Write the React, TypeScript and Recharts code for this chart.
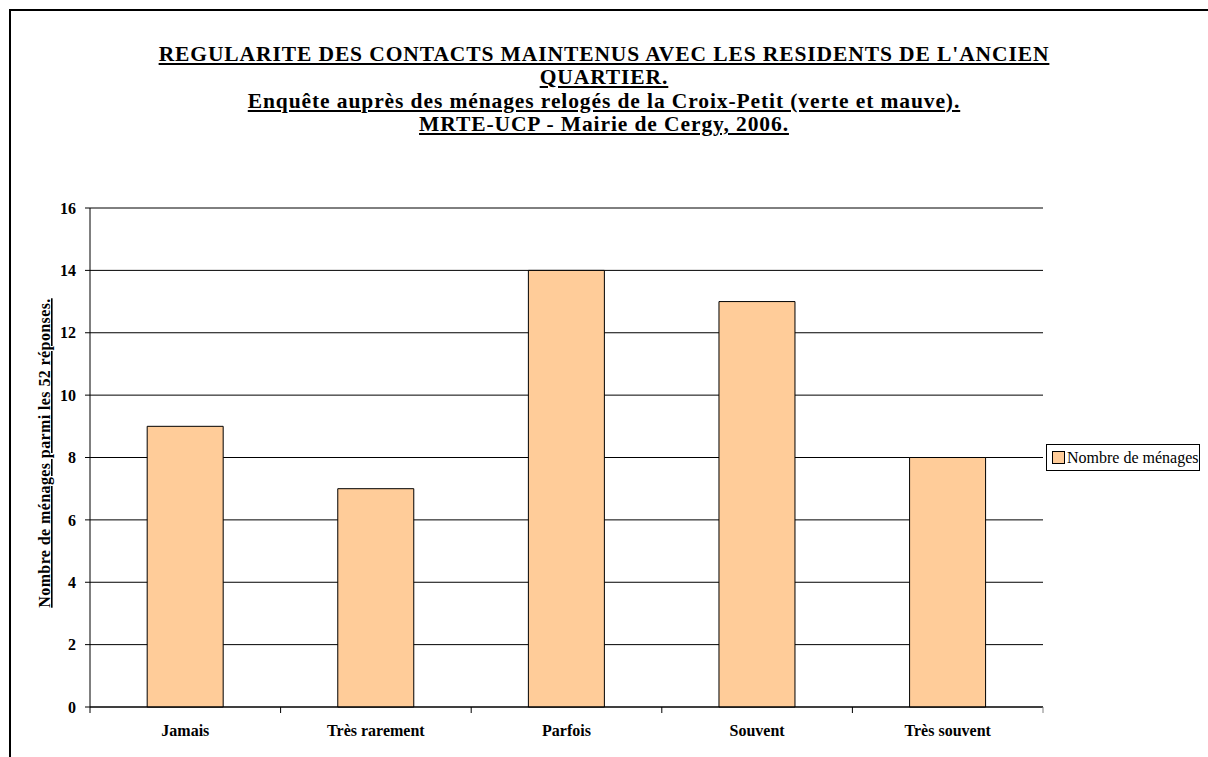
import React from 'react';
import { BarChart, Bar, XAxis, YAxis, CartesianGrid, ReferenceLine } from 'recharts';

const categories = ['Jamais', 'Très rarement', 'Parfois', 'Souvent', 'Très souvent'];
const households = [9, 7, 14, 13, 8];
const yTicks = [0, 2, 4, 6, 8, 10, 12, 14, 16];
const seriesName = 'Nombre de ménages';
const yAxisTitle = 'Nombre de ménages parmi les 52 réponses.';

const titleLines = [
  "REGULARITE DES CONTACTS MAINTENUS AVEC LES RESIDENTS DE L'ANCIEN",
  'QUARTIER.',
  'Enquête auprès des ménages relogés de la Croix-Petit (verte et mauve).',
  'MRTE-UCP - Mairie de Cergy, 2006.',
];

const data = categories.map((name, i) => ({ name, value: households[i] }));

const FONT = '"Liberation Serif", "Times New Roman", serif';
const PLOT_LEFT = 90;
const PLOT_RIGHT = 1043;
const BAND = (PLOT_RIGHT - PLOT_LEFT) / categories.length;

const XTick = (props: any) => {
  const { x, y, payload, index, visibleTicksCount } = props;
  const half = payload && payload.offset ? payload.offset : BAND / 2;
  const last = index === (visibleTicksCount ?? categories.length) - 1;
  return (
    <g>
      <line x1={x - half} y1={y} x2={x - half} y2={y + 6} stroke="#000" />
      {last && <line x1={x + half} y1={y} x2={x + half} y2={y + 6} stroke="#808080" />}
      <text x={x} y={y + 29} textAnchor="middle" fontFamily={FONT} fontWeight="bold" fontSize={16} fill="#000">
        {payload.value}
      </text>
    </g>
  );
};

const YLabel = () => (
  <text
    x={50}
    y={453}
    transform="rotate(-90 50 453)"
    textAnchor="middle"
    fontFamily={FONT}
    fontWeight="bold"
    fontSize={16}
    letterSpacing={0.4}
    textDecoration="underline"
    fill="#000"
  >
    {yAxisTitle}
  </text>
);

export default function App() {
  return (
    <div style={{ position: 'absolute', left: 0, top: 0, width: 1208, height: 757, overflow: 'hidden', background: '#fff' }}>
      <div style={{ position: 'absolute', left: 9, top: 9, width: 1300, height: 900, borderLeft: '2px solid #000', borderTop: '2px solid #000' }} />
      <div style={{ position: 'absolute', left: 0, top: 43, width: 1208, textAlign: 'center', fontFamily: FONT, fontWeight: 'bold', fontSize: 21.5, letterSpacing: 0.9, lineHeight: '23.3px', textDecoration: 'underline', color: '#000' }}>
        {titleLines.map((t) => (
          <div key={t}>{t}</div>
        ))}
      </div>
      <div style={{ position: 'absolute', left: 0, top: 0 }}>
        <BarChart width={1208} height={757} data={data} margin={{ top: 208, right: 165, bottom: 20, left: 30 }} barCategoryGap="30%">
          <CartesianGrid horizontal vertical={false} stroke="#000" strokeOpacity={1} />
          <XAxis
            dataKey="name"
            axisLine={{ stroke: '#000' }}
            tickLine={false}
            tickSize={0}
            tickMargin={0}
            tick={<XTick />}
            interval={0}
            height={30}
          />
          <YAxis
            domain={[0, 16]}
            ticks={yTicks}
            interval={0}
            width={60}
            axisLine={{ stroke: '#000' }}
            tickLine={{ stroke: '#000' }}
            tickSize={5}
            tickMargin={9}
            tick={{ fontFamily: FONT, fontWeight: 'bold', fontSize: 16, fill: '#000' }}
          />
          <YAxis yAxisId="right" orientation="right" width={0} tick={false} tickLine={false} axisLine={{ stroke: '#808080' }} />
          <ReferenceLine y={16} stroke="#808080" />
          <Bar dataKey="value" name={seriesName} fill="#FFCC99" stroke="#000" strokeWidth={1} isAnimationActive={false} />
          <YLabel />
        </BarChart>
      </div>
      <div
        style={{
          position: 'absolute',
          left: 1046,
          top: 444,
          width: 152,
          height: 25,
          border: '1px solid #000',
          background: '#fff',
          display: 'flex',
          alignItems: 'center',
          fontFamily: FONT,
          fontSize: 16,
          color: '#000',
          whiteSpace: 'nowrap',
        }}
      >
        <span style={{ display: 'inline-block', width: 11, height: 11, background: '#FFCC99', border: '1px solid #000', marginLeft: 5, marginRight: 2 }} />
        <span>{seriesName}</span>
      </div>
    </div>
  );
}
